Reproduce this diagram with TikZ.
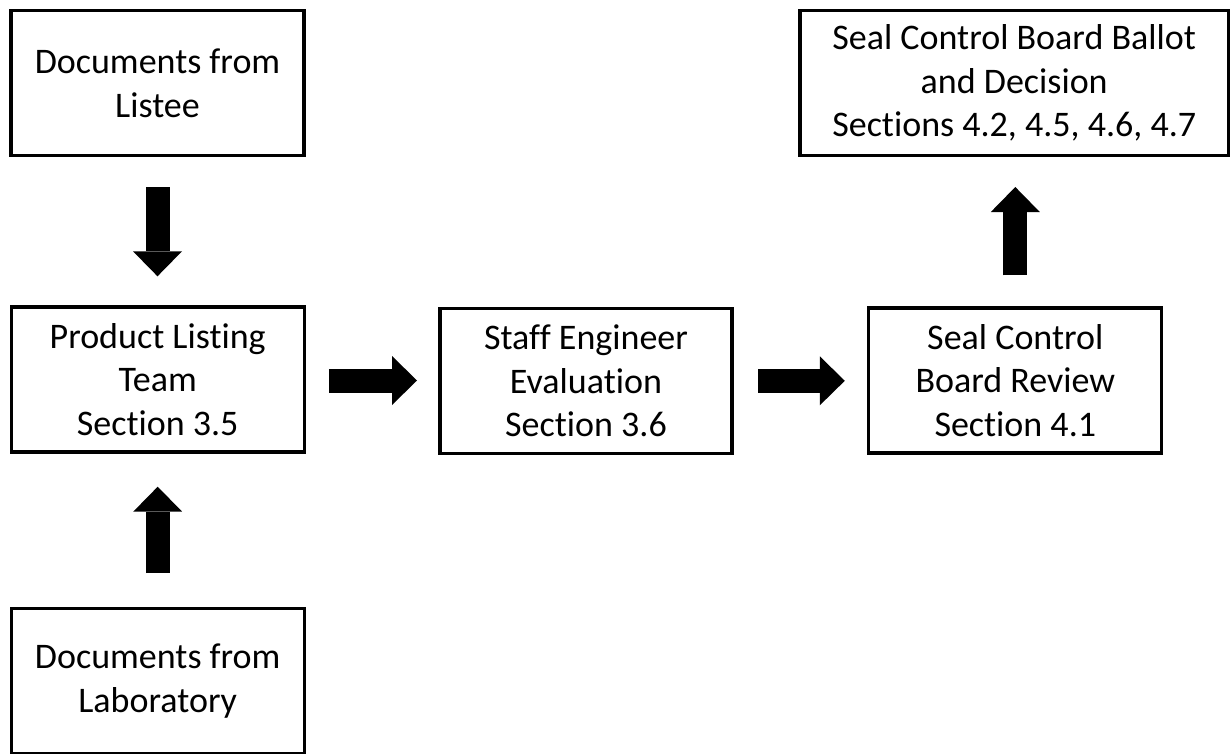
\documentclass[tikz,border=0pt]{standalone}
\usepackage{fontspec}
\setmainfont{Carlito}[Ligatures=CommonOff]
\usetikzlibrary{arrows.meta}
\begin{document}
\begin{tikzpicture}[x=1pt,y=-1pt,
  box/.style={draw, line width=3.3pt, outer sep=0pt, inner sep=0pt,
    minimum width=293pt, minimum height=145pt, align=center,
    font=\fontsize{36}{43.5}\selectfont},
  blockarrow/.style={line width=24pt,
    -{Triangle[width=49pt,length=25pt,line width=0pt]}}]
\useasboundingbox (0,0) rectangle (1231,753);
\node[box] (listee) at (157.5,83.2) {Documents from\\Listee};
\node[box] (plt) at (157.7,379.5) {Product Listing\\Team\\Section 3.5};
\node[box] (lab) at (157.7,680.8) {Documents from\\Laboratory};
\node[box, minimum width=292pt] (staff) at (586,380.8) {Staff Engineer\\Evaluation\\Section 3.6};
\node[box] (review) at (1015.3,380.5) {Seal Control\\Board Review\\Section 4.1};
\node[box, minimum width=428.3pt] (ballot) at (1014.2,83.2) {Seal Control Board Ballot\\and Decision\\Sections 4.2, 4.5, 4.6, 4.7};
\draw[blockarrow, shorten <=31.3pt, shorten >=30.7pt] (listee.south) -- (listee.south |- plt.north);
\draw[blockarrow, shorten <=35.3pt, shorten >=34.7pt] (lab.north) -- (lab.north |- plt.south);
\draw[blockarrow, shorten <=24.7pt, shorten >=23pt] ([yshift=-1pt]plt.east) -- ([yshift=-1pt]plt.east -| staff.west);
\draw[blockarrow, shorten <=26pt, shorten >=24pt] (staff.east) -- (staff.east -| review.west);
\draw[blockarrow, shorten <=32.7pt, shorten >=31.3pt] (review.north) -- (review.north |- ballot.south);
\end{tikzpicture}
\end{document}
